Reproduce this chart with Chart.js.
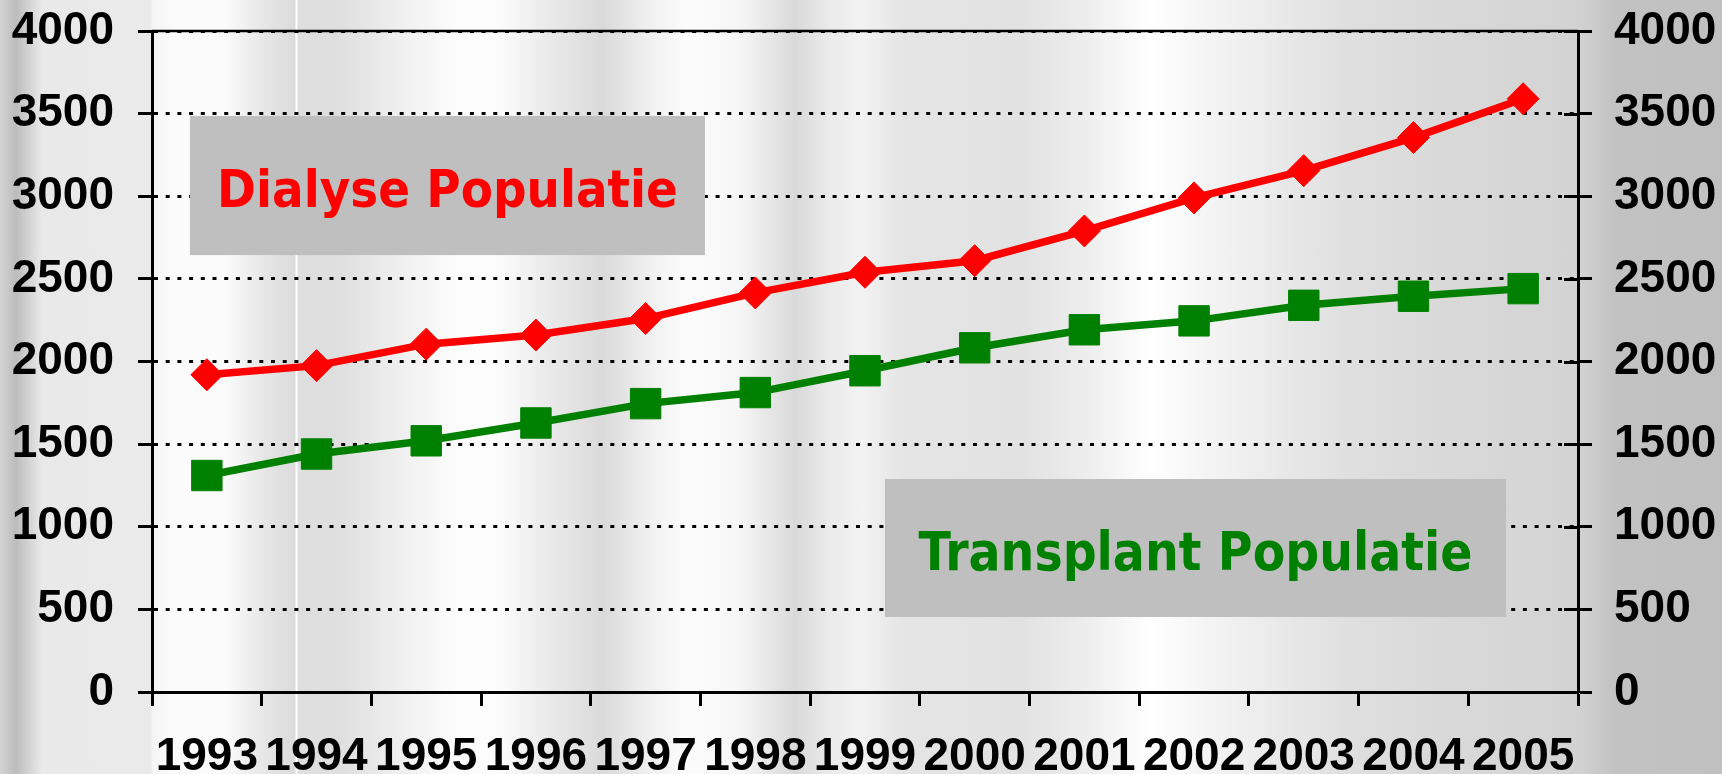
<!DOCTYPE html>
<html>
<head>
<meta charset="utf-8">
<script src="https://cdn.jsdelivr.net/npm/chart.js@4.4.0/dist/chart.umd.min.js"></script>
<style>
html, body { margin:0; padding:0; width:1722px; height:774px; overflow:hidden; }
body {
  background: linear-gradient(to right,
    #d4d4d4 0px, #bcbcbc 16px, #d2d2d2 28px, #e9e9e9 42px, #eaeaea 151px,
    #f5f5f5 152px, #fbfbfb 175px, #fbfbfb 225px, #e6e6e6 265px, #dcdcdc 292px, #dcdcdc 295px,
    #ffffff 296px, #ffffff 297px, #dedede 298px, #dfdfdf 340px, #efefef 400px, #fcfcfc 455px,
    #fcfcfc 500px, #ebebeb 545px, #dadada 603px, #eeeeee 645px, #fcfcfc 685px, #f6f6f6 740px,
    #d9d9d9 795px, #ebebeb 830px, #f2f2f2 862px, #e4e4e4 905px, #e4e4e4 935px, #e2e2e2 1020px,
    #ededed 1085px, #ffffff 1150px, #f4f4f4 1210px, #e6e6e6 1300px, #dedede 1360px, #d8d8d8 1465px,
    #d4d4d4 1560px, #d2d2d2 1578px, #cbcbcb 1595px, #c2c2c2 1615px, #c0c0c0 1722px);
}
#wrap { position:relative; width:1722px; height:774px; }
</style>
</head>
<body>
<div id="wrap"><canvas id="c" width="1722" height="774"></canvas></div>
<script>
// ---- data ----
const years = ['1993','1994','1995','1996','1997','1998','1999','2000','2001','2002','2003','2004','2005'];
const dialyse = [1920, 1975, 2105, 2160, 2260, 2415, 2540, 2610, 2790, 2990, 3155, 3355, 3590];
const transplant = [1310, 1440, 1520, 1628, 1745, 1812, 1944, 2083, 2192, 2246, 2340, 2395, 2441];
const yTickValues = [0, 500, 1000, 1500, 2000, 2500, 3000, 3500, 4000];
const seriesNames = ['Dialyse Populatie', 'Transplant Populatie'];

// ---- annotation boxes (positions in scale units, styles) ----
const boxConfig = [
  { text: seriesNames[0], color: '#ff0000', xFrom: -0.154, xTo: 4.541, yFrom: 3486, yTo: 2644, textWidth: 461, textDy: 2.5 },
  { text: seriesNames[1], color: '#008000', xFrom: 6.182, xTo: 11.844, yFrom: 1289, yTo: 454, textWidth: 554, textDy: 3 }
];

const FONT = "'Liberation Sans', Arial, sans-serif";
const tickFont = { family: FONT, size: 46, weight: 'bold' };

const decorPlugin = {
  id: 'decor',
  beforeDatasetsDraw(chart) {
    const { ctx, chartArea, scales } = chart;
    ctx.save();
    ctx.strokeStyle = '#000';
    ctx.lineWidth = 2.5;
    ctx.beginPath();
    ctx.moveTo(chartArea.left, chartArea.top);
    ctx.lineTo(chartArea.right, chartArea.top);
    ctx.stroke();
    boxConfig.forEach(b => {
      const x1 = scales.x.getPixelForValue(b.xFrom);
      const x2 = scales.x.getPixelForValue(b.xTo);
      const y1 = scales.y.getPixelForValue(b.yFrom);
      const y2 = scales.y.getPixelForValue(b.yTo);
      ctx.fillStyle = '#bfbfbf';
      ctx.fillRect(x1, y1, x2 - x1, y2 - y1);
      const fam = "'DejaVu Sans Condensed', 'DejaVu Sans', sans-serif";
      ctx.font = "bold 52px " + fam;
      const w = ctx.measureText(b.text).width;
      const size = 52 * b.textWidth / w;
      ctx.font = "bold " + size.toFixed(2) + "px " + fam;
      ctx.fillStyle = b.color;
      ctx.textAlign = 'center';
      ctx.textBaseline = 'alphabetic';
      const cap = size * 0.729;
      ctx.fillText(b.text, (x1 + x2) / 2, (y1 + y2) / 2 + cap / 2 + b.textDy);
    });
    ctx.restore();
  },
  afterDraw(chart) {
    const { ctx, chartArea, scales } = chart;
    ctx.save();
    ctx.strokeStyle = '#000';
    ctx.lineWidth = 3;
    scales.y2.ticks.forEach(t => {
      const y = Math.round(scales.y2.getPixelForValue(t.value)) + 0.5;
      ctx.beginPath();
      ctx.moveTo(chartArea.right - 14, y);
      ctx.lineTo(chartArea.right, y);
      ctx.stroke();
    });
    ctx.restore();
  }
};

const yTicksCfg = (pad) => ({
  autoSkip: false,
  color: '#000',
  font: tickFont,
  padding: pad,
  stepSize: 500,
  callback: (v) => yTickValues.includes(v) ? String(v) : ''
});

function fixY(width) {
  return function (s) { s.width = width; s.paddingTop = 0; s.paddingBottom = 0; };
}

new Chart(document.getElementById('c'), {
  type: 'line',
  data: {
    labels: years,
    datasets: [
      { label: seriesNames[0], data: dialyse, borderColor: '#ff0000', backgroundColor: '#ff0000',
        borderWidth: 7.5, pointStyle: 'rectRot', pointRadius: 16, pointBorderWidth: 1,
        pointBackgroundColor: '#ff0000', pointBorderColor: '#ff0000', tension: 0, yAxisID: 'y' },
      { label: seriesNames[1], data: transplant, borderColor: '#008000', backgroundColor: '#008000',
        borderWidth: 7.5, pointStyle: 'rect', pointRadius: 21.5, pointBorderWidth: 1,
        pointBackgroundColor: '#008000', pointBorderColor: '#008000', tension: 0, yAxisID: 'y' }
    ]
  },
  options: {
    responsive: false,
    animation: false,
    events: [],
    layout: { padding: { top: 31, left: 0, right: 0, bottom: 0 } },
    plugins: { legend: { display: false }, tooltip: { enabled: false } },
    scales: {
      x: {
        type: 'category',
        offset: true,
        grid: { offset: true, drawOnChartArea: false, drawTicks: true, tickLength: 14, tickWidth: 3, tickColor: '#000', color: '#000' },
        border: { display: true, color: '#000', width: 3 },
        ticks: { autoSkip: false, maxRotation: 0, minRotation: 0, color: '#000', font: tickFont, padding: 24 },
        afterFit(s) { s.height = 82; s.paddingLeft = 0; s.paddingRight = 0; }
      },
      y: {
        position: 'left',
        min: 0, max: 4000,
        grid: { color: '#000', lineWidth: 3, drawTicks: true, tickLength: 14, tickWidth: 3, tickColor: '#000' },
        border: { display: true, color: '#000', width: 3, dash: [4, 7.7] },
        ticks: yTicksCfg(24),
        afterFit: fixY(152)
      },
      y2: {
        position: 'right',
        min: 0, max: 4000,
        grid: { drawOnChartArea: false, drawTicks: true, tickLength: 14, tickWidth: 3, tickColor: '#000', color: '#000' },
        border: { display: true, color: '#000', width: 3 },
        ticks: yTicksCfg(22),
        afterFit: fixY(144)
      }
    }
  },
  plugins: [decorPlugin]
});
</script>
</body>
</html>
